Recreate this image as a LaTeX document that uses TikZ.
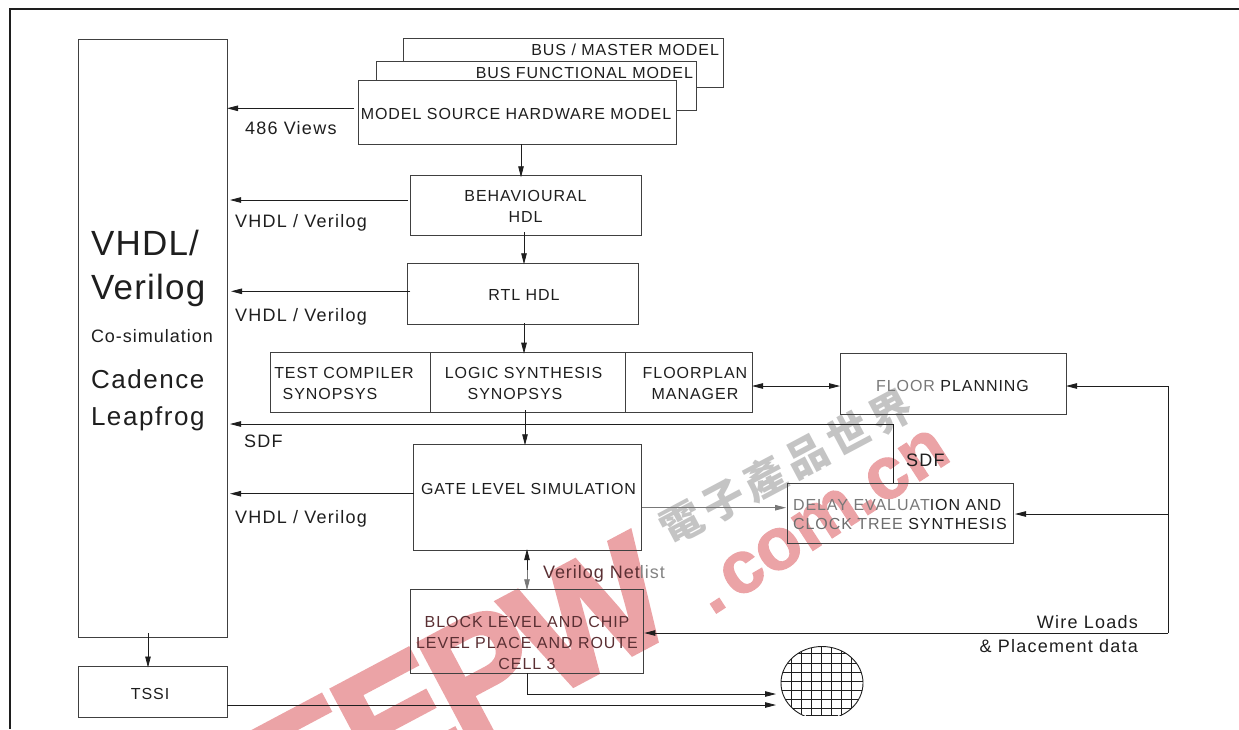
\documentclass[tikz,border=0pt]{standalone}
\usepackage{fontspec}
\usetikzlibrary{arrows.meta,calc}
\setmainfont{Liberation Sans}
\newfontfamily\fbx{Liberation Sans}[LetterSpace=6]
\newfontfamily\flab{Liberation Sans}[LetterSpace=7]
\newfontfamily\fcos{Liberation Sans}[LetterSpace=5.5]
\newfontfamily\fbig{Liberation Sans}[LetterSpace=3.5]
\newfontfamily\fcad{Liberation Sans}[LetterSpace=6]
\newfontfamily\fcjk{Noto Sans CJK TC}[LetterSpace=13]
\newfontfamily\fwma{Liberation Sans}[BoldFeatures={FakeBold=2.5,LetterSpace=-5}]
\newfontfamily\fwmb{Liberation Sans}[BoldFeatures={FakeBold=1.5}]
\definecolor{ink}{HTML}{1E1E1E}
\definecolor{wmred}{HTML}{EBA3A6}
\definecolor{wmgray}{HTML}{C4C4C4}
\definecolor{inkred}{HTML}{5A2F33}
\tikzset{
  x=1pt,y=-1pt,
  boxn/.style={draw=ink!85,line width=0.9pt,inner sep=0pt,outer sep=0pt,rectangle},
  tb/.style={inner sep=0pt,outer sep=0pt,text=ink,align=center,font={\fbx\fontsize{16}{21}\selectfont}},
  tl/.style={inner sep=0pt,outer sep=0pt,text=ink,font={\flab\fontsize{18}{22}\selectfont}},
  tv/.style={inner sep=0pt,outer sep=0pt,text=ink,font={\fbig\fontsize{35}{35}\selectfont}},
  tc/.style={inner sep=0pt,outer sep=0pt,text=ink,font={\fcad\fontsize{26}{26}\selectfont}},
  arr/.style={draw=ink,line width=0.8pt,-{Triangle[length=11pt,width=5.5pt]}},
  lin/.style={draw=ink,line width=0.8pt},
  both/.style={draw=ink,line width=0.8pt,{Triangle[length=11pt,width=5.5pt]}-{Triangle[length=11pt,width=5.5pt]}},
}
\newcommand{\bx}[6][]{%
  \node[boxn,#1,minimum width={#4-#2},minimum height={#5-#3},anchor=north west] (#6) at (#2,#3) {};}
\begin{document}
\begin{tikzpicture}
\useasboundingbox (0,0) rectangle (1239,729);
% watermark, under everything
\node[inner sep=0pt,text=wmgray,anchor=center,rotate=28,font={\fcjk\bfseries\fontsize{42}{42}\selectfont}] (wm3) at (786,467) {電子產品世界};
\node[inner sep=0pt,text=wmred,anchor=base east,rotate=28,font={\fwma\bfseries\fontsize{160}{160}\selectfont}] (wm1) at (682,628) {EEPW};
\node[inner sep=0pt,text=wmred,anchor=base west,rotate=33,font={\fwmb\bfseries\fontsize{74}{74}\selectfont}] (wm2) at (712,616) {.\hspace{8pt}com.cn};
% page frame
\coordinate (fa) at (1239,9);
\coordinate (fb) at (10,9);
\coordinate (fc) at (10,729);
\draw[ink,line width=2pt] (fa) -- (fb) -- (fc);
% boxes
\bx{78.5}{39.5}{227}{637}{sim}
\bx{78.5}{666.5}{227}{717}{tssi}
\bx[fill=white]{403.5}{38.5}{723}{87.5}{master}
\bx[fill=white]{376.7}{61.5}{696.7}{110}{func}
\bx[fill=white]{358}{80.7}{676}{144.3}{model}
\bx{410.7}{175.3}{641.3}{235.3}{behav}
\bx{407.3}{263.3}{638.5}{324}{rtl}
\bx{270}{352.7}{430}{412}{comp}
\bx{430}{352.7}{625.7}{412}{logic}
\bx{625.7}{352.7}{752}{412}{mgr}
\bx{840}{353}{1066}{414}{floor}
\bx{787}{483}{1013}{543}{delay}
\bx{413.7}{444.3}{641.3}{550}{gate}
\bx{410.7}{589.3}{643.3}{673.3}{block}
% wafer
\coordinate (wc) at (822,683);
\node[inner sep=0pt,outer sep=0pt,minimum size=0pt] (wafer) at (wc) {};
\begin{scope}
  \clip (775,640) rectangle (870,715);
  \draw[ink,line width=0.9pt] (wafer) ellipse [x radius=41,y radius=36.5];
  \clip (wafer) ellipse [x radius=41,y radius=36.5];
  \foreach \xx in {791.7,801.7,811.7,821.7,831.7,841.7,851.7}
    \draw[ink,line width=0.8pt] (\xx,640) -- (\xx,715);
  \foreach \yy in {653,663.3,672.3,681.3,690,699.3,708.3}
    \draw[ink,line width=0.8pt] (775,\yy) -- (870,\yy);
\end{scope}
\draw[ink,line width=0.9pt] (806,715) -- (838,715);
% connectors
\coordinate (trunkB) at (1168,633);
\coordinate (trunkF) at (1168,386);
\coordinate (trunkD) at (1168,514);
\coordinate (sdfJ) at (893,424);
\draw[arr] ([xshift=-4pt]model.west |- 0,108.3) -- (sim.east |- 0,108.3);
\draw[arr] ([xshift=-3pt]behav.west |- 0,200) -- ([xshift=3pt]sim.east |- 0,200);
\draw[arr] ([xshift=3pt]rtl.west |- 0,291.3) -- ([xshift=4pt]sim.east |- 0,291.3);
\draw[arr] (sdfJ) -- ([xshift=3pt]sim.east |- sdfJ);
\draw[lin] (sdfJ) -- (sdfJ |- delay.north);
\draw[arr] (gate.west |- 0,493.7) -- ([xshift=3pt]sim.east |- 0,493.7);
\draw[arr] (model.south -| 521,0) -- ([yshift=-2pt]behav.north -| 521,0);
\draw[arr] ([yshift=3pt]behav.south -| 524,0) -- ([yshift=-1pt]rtl.north -| 524,0);
\draw[arr] ([yshift=1pt]rtl.south -| 524,0) -- ([yshift=-1pt]logic.north -| 524,0);
\draw[arr] ([yshift=2pt]logic.south -| 525,0) -- ([yshift=-1pt]gate.north -| 525,0);
\draw[both] (mgr.east |- 0,386) -- (floor.west |- 0,386);
\draw[arr,draw=ink!60] ([xshift=1pt]gate.east |- 0,507.7) -- ([xshift=-1pt]delay.west |- 0,507.7);
\draw[lin] (trunkB) -- (trunkF);
\draw[arr] (trunkF) -- (floor.east |- trunkF);
\draw[arr] (trunkD) -- ([xshift=2pt]delay.east |- trunkD);
\draw[arr] (trunkB) -- ([xshift=1pt]block.east |- trunkB);
\draw[draw=ink,line width=0.8pt,{Triangle[length=11pt,width=5.5pt]}-] ([yshift=1pt]gate.south -| 527,0) -- (527,570);
\draw[arr,draw=ink!60] (527,570) -- ([yshift=-1pt]block.north -| 527,0);
\draw[arr] (block.south -| 527,0) |- (776,694);
\draw[arr] (tssi.east |- 0,705) -- (776,705);
\draw[arr] ([yshift=4pt]sim.south -| 148,0) -- ([yshift=-1pt]tssi.north -| 148,0);
% box texts
\node[tb,anchor=base east] (tmaster) at (719,55) {BUS / MASTER MODEL};
\node[tb,anchor=base east] (tfunc) at (693,78.3) {BUS FUNCTIONAL MODEL};
\node[tb,anchor=base] (tmodel) at (516,119) {MODEL SOURCE HARDWARE MODEL};
\node[tb] (tbehav) at (525.5,206.9) {BEHAVIOURAL\\HDL};
\node[tb,anchor=base] (trtl) at (524,300) {RTL HDL};
\node[tb] (tcomp) at (344,383.9) {TEST COMPILER\\\hspace*{-28pt}SYNOPSYS};
\node[tb] (tlogic) at (523.5,383.9) {LOGIC SYNTHESIS\\\hspace*{-17pt}SYNOPSYS};
\node[tb] (tmgr) at (695,383.9) {FLOORPLAN\\MANAGER};
\node[tb,anchor=base] (tfloor) at (952.5,391.7) {\textcolor{ink!60}{FLOOR} PLANNING};
\node[tb,align=left,anchor=west,font={\fbx\fontsize{16}{19}\selectfont}] (tdelay) at (793,514.3) {\textcolor{ink!60}{DELAY EVALUAT}ION AND\\\textcolor{ink!65}{CLOCK TREE} SYNTHESIS};
\node[tb,anchor=base] (tgate) at (528.5,494) {GATE LEVEL SIMULATION};
\node[tb,text=inkred] (tblock) at (527,643.4) {BLOCK LEVEL AND CHIP\\LEVEL PLACE AND ROUTE\\CELL 3};
\node[tb,anchor=base] (ttssi) at (150,699) {TSSI};
% labels
\node[tl,anchor=base west] (l486) at (245,134) {486 Views};
\node[tl,anchor=base west] (lv1) at (235,227.3) {VHDL / Verilog};
\node[tl,anchor=base west] (lv2) at (235,321) {VHDL / Verilog};
\node[tl,anchor=base west] (lv3) at (235,523.3) {VHDL / Verilog};
\node[tl,anchor=base west] (lsdf1) at (244,447) {SDF};
\node[tl,anchor=base west] (lsdf2) at (906,466.7) {SDF};
\node[tl,anchor=base west,text=inkred,font={\fcos\fontsize{18}{22}\selectfont}] (lnet) at (543,578.3) {Verilog Net\textcolor{ink!55}{list}};
\node[tl,anchor=base east] (lwire) at (1138,628) {Wire Loads};
\node[tl,anchor=base east] (lplace) at (1138,652) {\&\ Placement data};
\node[tv,anchor=base west] (v1) at (91,255) {VHDL/};
\node[tv,anchor=base west] (v2) at (91,299) {Verilog};
\node[tl,anchor=base west,font={\fcos\fontsize{18}{22}\selectfont}] (v3) at (91,342.7) {Co-simulation};
\node[tc,anchor=base west] (v4) at (91,388) {Cadence};
\node[tc,anchor=base west] (v5) at (91,425.5) {Leapfrog};
\end{tikzpicture}
\end{document}
